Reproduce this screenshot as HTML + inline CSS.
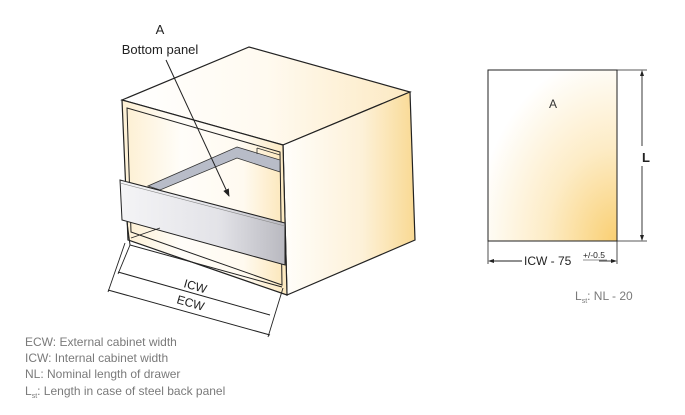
<!DOCTYPE html>
<html><head><meta charset="utf-8"><style>
html,body{margin:0;padding:0;background:#fff;width:685px;height:415px;overflow:hidden}
svg{display:block}
text{font-family:"Liberation Sans",Arial,sans-serif}
</style></head><body>
<svg width="685" height="415" viewBox="0 0 685 415" xmlns="http://www.w3.org/2000/svg">
<defs>
<linearGradient id="gR" x1="0" y1="0" x2="1" y2="0">
<stop offset="0" stop-color="#fffefb"/><stop offset="0.6" stop-color="#fdf1d8"/><stop offset="1" stop-color="#f9d993"/></linearGradient>
<linearGradient id="gT" x1="0" y1="0" x2="1" y2="0">
<stop offset="0" stop-color="#ffffff"/><stop offset="0.5" stop-color="#fffaf0"/><stop offset="1" stop-color="#fce9c2"/></linearGradient>
<linearGradient id="gF" x1="0" y1="0" x2="1" y2="0">
<stop offset="0" stop-color="#fdf0d4"/><stop offset="0.35" stop-color="#fffdf9"/><stop offset="0.75" stop-color="#fffaf0"/><stop offset="1" stop-color="#fce8bd"/></linearGradient>
<linearGradient id="gP" x1="0" y1="0" x2="1" y2="0">
<stop offset="0" stop-color="#f4f4f6"/><stop offset="0.6" stop-color="#e3e3e8"/><stop offset="1" stop-color="#b9b9c0"/></linearGradient>
<radialGradient id="gA" cx="1" cy="1" r="1.1">
<stop offset="0" stop-color="#f9cf72"/><stop offset="0.5" stop-color="#fdecc6"/><stop offset="1" stop-color="#fff"/></radialGradient>
<marker id="ar" markerWidth="8" markerHeight="6" refX="7" refY="3" orient="auto" markerUnits="userSpaceOnUse"><path d="M0,0 L8,3 L0,6 z" fill="#222"/></marker>
</defs>
<polygon points="122,100 249,47 410,92 283,145" fill="url(#gT)" stroke="#222" stroke-width="1.2"/>
<polygon points="283,145 410,92 415,240 287,295" fill="url(#gR)" stroke="#222" stroke-width="1.2"/>
<polygon points="122,100 283,145 287,295 128,240" fill="url(#gF)" stroke="#222" stroke-width="1.2"/>
<polygon points="127,108 280,152 282,285 131,232" fill="url(#gF)" stroke="#222" stroke-width="1"/>
<polygon points="237,147 280,160 280,172 237,158 160,190 148,186" fill="#b8bcc8" stroke="#333" stroke-width="0.8"/>
<line x1="257" y1="148" x2="257" y2="154" stroke="#333" stroke-width="0.8"/>
<line x1="257" y1="148" x2="280" y2="155" stroke="#333" stroke-width="0.8"/>
<polygon points="120,180 285,223 285,265 122,220" fill="url(#gP)" stroke="#222" stroke-width="1"/>
<line x1="120" y1="183" x2="285" y2="226" stroke="#888" stroke-width="0.6"/>
<polyline points="127,222 130,245 282,287" fill="none" stroke="#222" stroke-width="1"/>
<line x1="131" y1="238" x2="160" y2="228" stroke="#222" stroke-width="0.8"/>
<line x1="166" y1="60" x2="229" y2="196" stroke="#222" stroke-width="1" marker-end="url(#ar)"/>
<line x1="118" y1="272" x2="270" y2="315" stroke="#222" stroke-width="1"/>
<line x1="108" y1="290" x2="270" y2="335" stroke="#222" stroke-width="1"/>
<line x1="125" y1="243" x2="108" y2="292" stroke="#222" stroke-width="0.9"/>
<line x1="130" y1="245" x2="118" y2="274" stroke="#222" stroke-width="0.9"/>
<line x1="283" y1="288" x2="268" y2="337" stroke="#222" stroke-width="0.9"/>
<text x="0" y="0" font-size="12" fill="#222" transform="translate(183,287) rotate(16)">ICW</text>
<text x="0" y="0" font-size="12" fill="#222" transform="translate(176,303) rotate(16)">ECW</text>
<text x="160" y="34" font-size="13" fill="#222" text-anchor="middle">A</text>
<text x="160" y="54" font-size="13" fill="#222" text-anchor="middle">Bottom panel</text>
<rect x="488" y="70" width="129" height="171" fill="url(#gA)" stroke="#222" stroke-width="1"/>
<text x="553" y="108" font-size="12" fill="#333" text-anchor="middle">A</text>
<line x1="617" y1="70" x2="647" y2="70" stroke="#222" stroke-width="0.8"/>
<line x1="617" y1="241" x2="647" y2="241" stroke="#222" stroke-width="0.8"/>
<line x1="642" y1="72" x2="642" y2="146" stroke="#222" stroke-width="0.9"/>
<line x1="642" y1="166" x2="642" y2="239" stroke="#222" stroke-width="0.9"/>
<path d="M642,70 l-2,6 h4z M642,241 l-2,-6 h4z" fill="#222"/>
<text x="642" y="162" font-size="13" font-weight="bold" fill="#222">L</text>
<line x1="488" y1="241" x2="488" y2="264" stroke="#222" stroke-width="0.8"/>
<line x1="617" y1="241" x2="617" y2="264" stroke="#222" stroke-width="0.8"/>
<line x1="490" y1="261" x2="522" y2="261" stroke="#222" stroke-width="0.9"/>
<line x1="599" y1="261" x2="615" y2="261" stroke="#222" stroke-width="0.9"/>
<path d="M488,261 l6,-2 v4z M617,261 l-6,-2 v4z" fill="#222"/>
<text x="524" y="265" font-size="12" fill="#222">ICW - 75</text>
<text x="583" y="258" font-size="8.5" fill="#222">+/-0.5</text>
<line x1="583" y1="260" x2="607" y2="260" stroke="#222" stroke-width="0.6"/>
<text x="575" y="300" font-size="12" fill="#7a7a7a">L<tspan font-size="7" dy="3">st</tspan><tspan dy="-3">: NL - 20</tspan></text>
<g font-size="12" fill="#7a7a7a">
<text x="25" y="346">ECW: External cabinet width</text>
<text x="25" y="362">ICW: Internal cabinet width</text>
<text x="25" y="378">NL: Nominal length of drawer</text>
<text x="25" y="395">L<tspan font-size="7" dy="3">st</tspan><tspan dy="-3">: Length in case of steel back panel</tspan></text>
</g>
</svg>
</body></html>
